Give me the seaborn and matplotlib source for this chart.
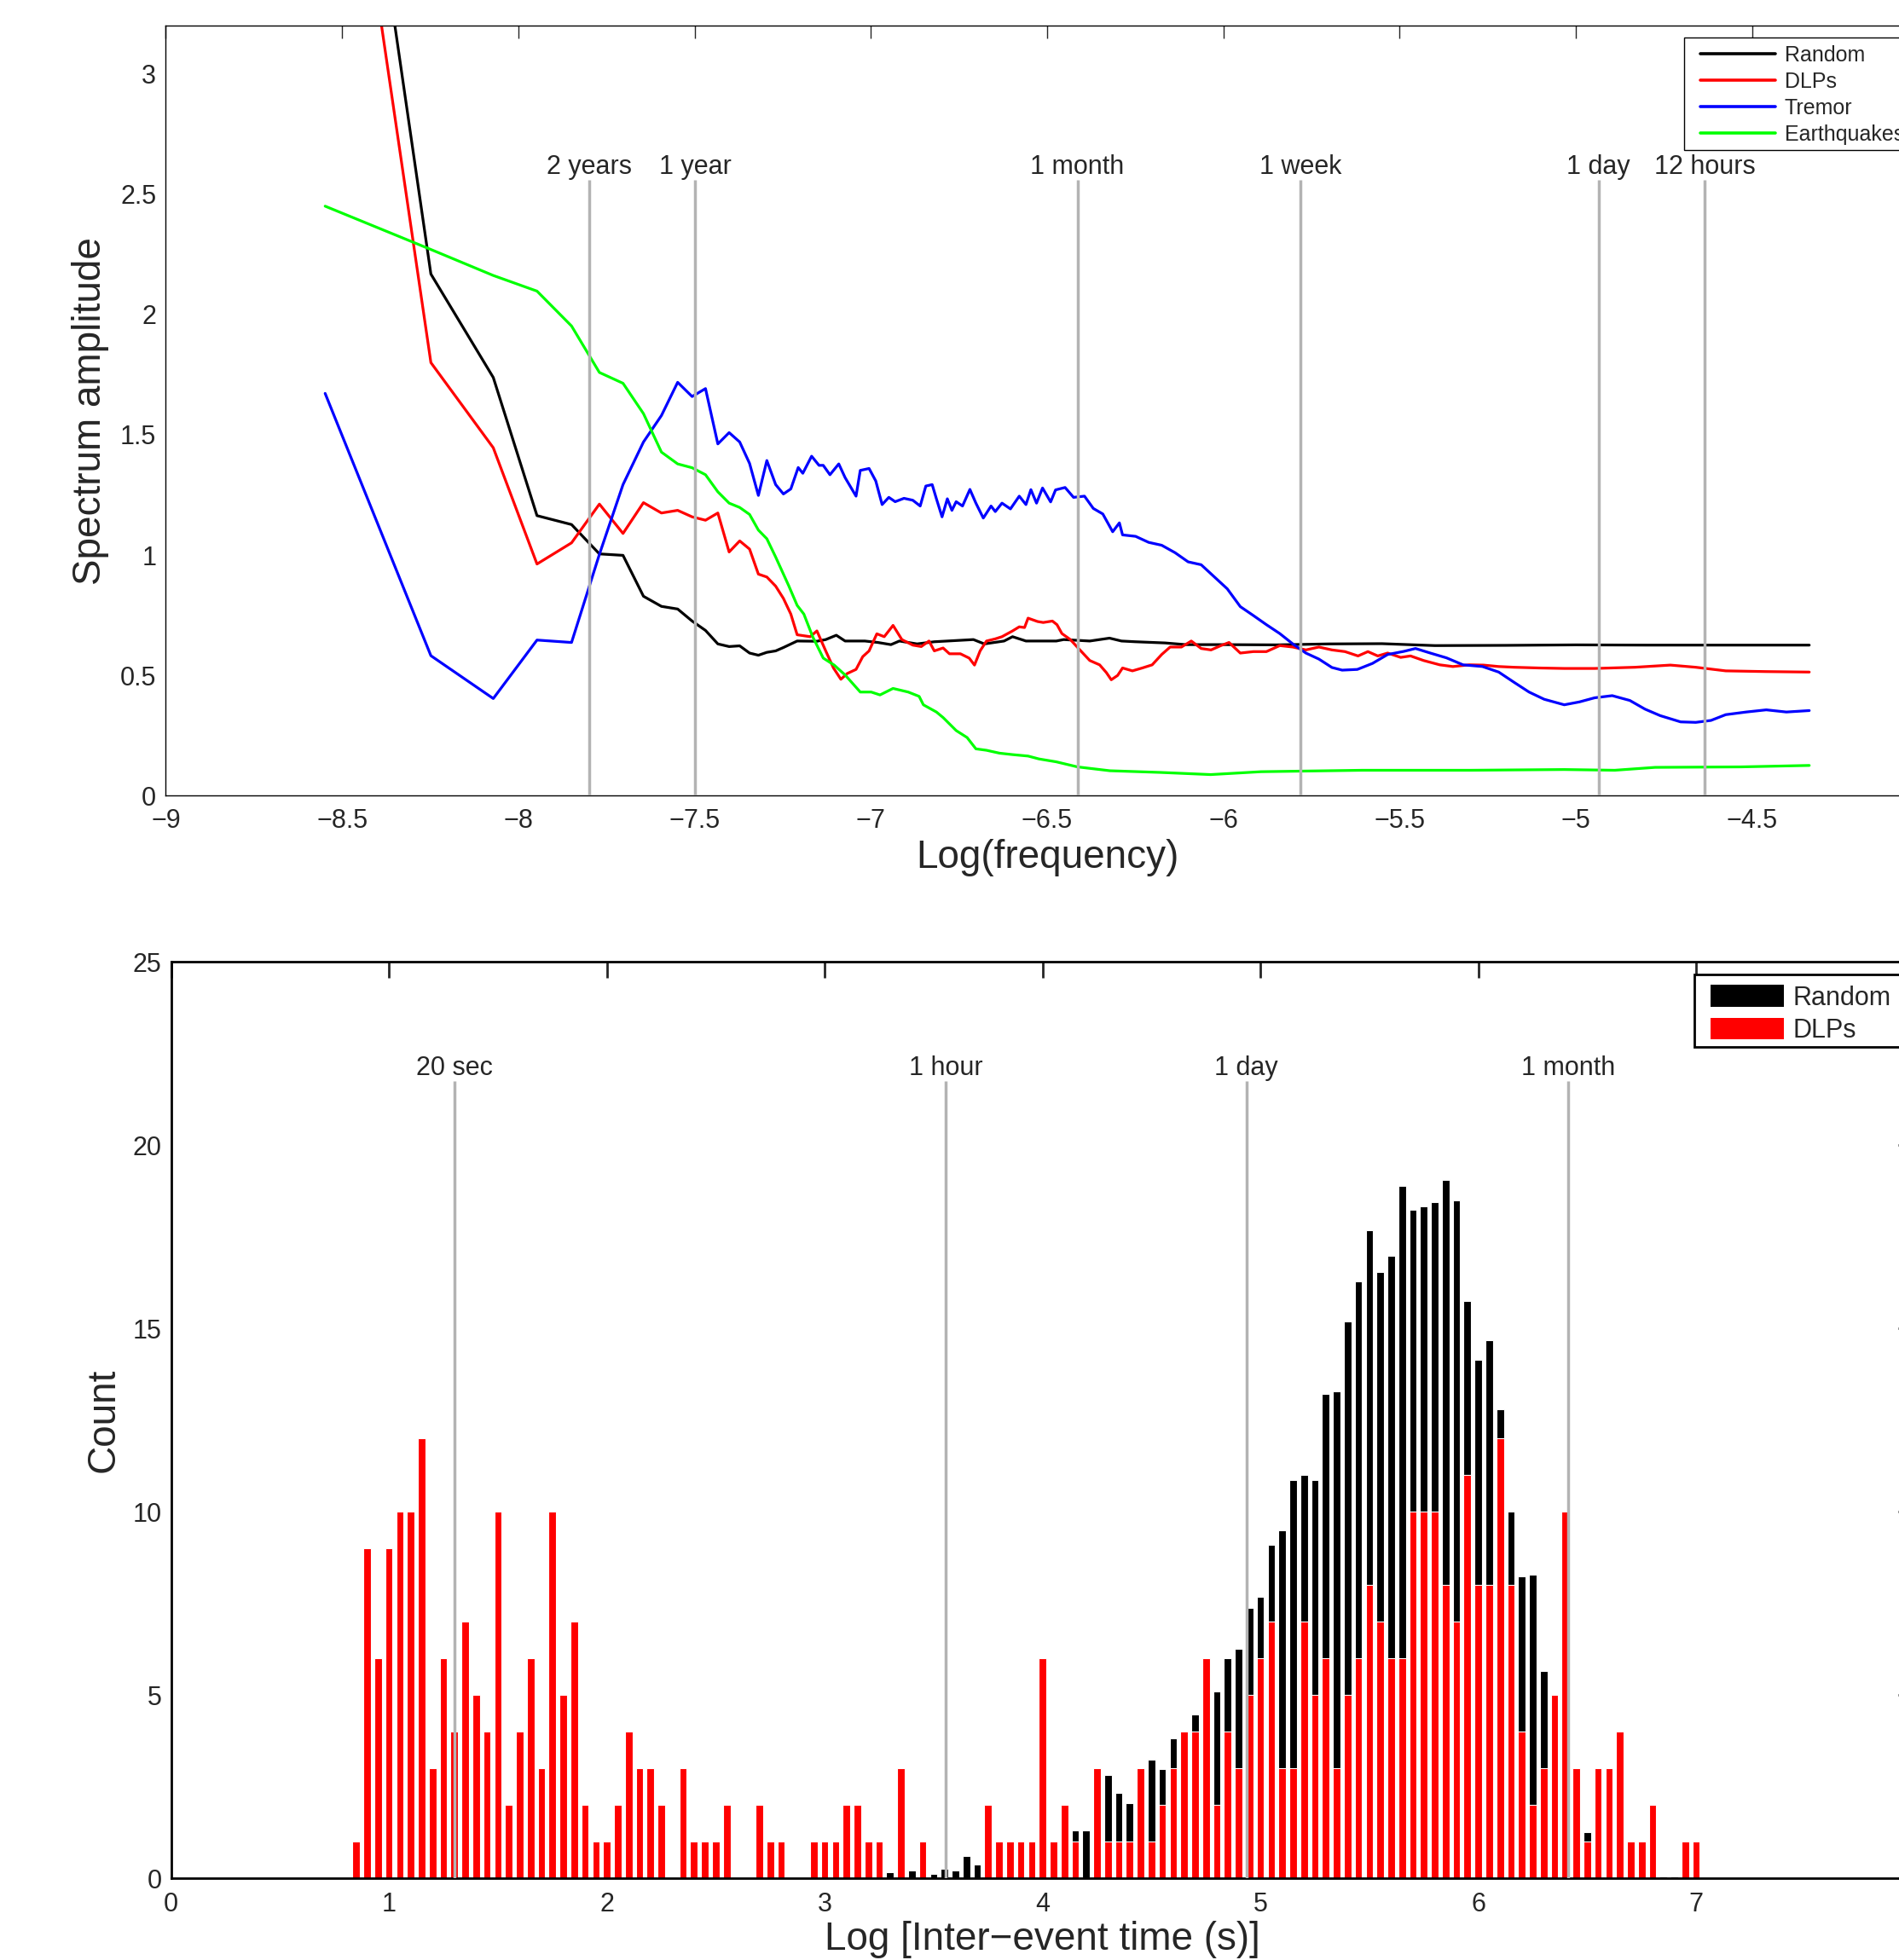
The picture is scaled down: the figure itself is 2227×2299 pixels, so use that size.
import numpy as np
import pandas as pd
import seaborn as sns
import matplotlib.pyplot as plt
import matplotlib.ticker as ticker
from matplotlib.lines import Line2D
from matplotlib.patches import Patch, Rectangle

# ---- spectra (log10 frequency, amplitude) ----
rand_logf = [-8.548, -8.248, -8.071, -7.947, -7.849, -7.77, -7.703, -7.645, -7.594, -7.548,
             -7.507, -7.469, -7.434, -7.402, -7.372, -7.344, -7.319, -7.295, -7.27, -7.248,
             -7.209, -7.153, -7.128, -7.098, -7.073, -7.017, -6.98, -6.943, -6.919, -6.869,
             -6.82, -6.783, -6.709, -6.678, -6.622, -6.598, -6.56, -6.474, -6.453, -6.379,
             -6.323, -6.289, -6.25, -6.165, -6.107, -6.0, -5.85, -5.7, -5.55, -5.4,
             -5.2, -5.0, -4.8, -4.6, -4.338]
rand_amp = [5.2, 2.168, 1.738, 1.164, 1.127, 1.005, 0.999, 0.829, 0.787, 0.776,
            0.726, 0.687, 0.631, 0.62, 0.623, 0.593, 0.584, 0.596, 0.602, 0.616,
            0.643, 0.642, 0.649, 0.667, 0.643, 0.643, 0.637, 0.628, 0.643, 0.631,
            0.64, 0.643, 0.649, 0.631, 0.643, 0.661, 0.643, 0.643, 0.649, 0.643,
            0.655, 0.643, 0.64, 0.635, 0.628, 0.628, 0.627, 0.631, 0.632, 0.624,
            0.625, 0.627, 0.626, 0.626, 0.626]

dlp_logf = [-8.548, -8.248, -8.071, -7.947, -7.849, -7.77, -7.703, -7.645, -7.594, -7.548,
            -7.507, -7.469, -7.434, -7.402, -7.372, -7.344, -7.319, -7.295, -7.27, -7.248,
            -7.227, -7.209, -7.172, -7.153, -7.128, -7.106, -7.085, -7.067, -7.042, -7.023,
            -7.005, -6.983, -6.962, -6.937, -6.912, -6.881, -6.857, -6.835, -6.82, -6.795,
            -6.777, -6.746, -6.721, -6.706, -6.69, -6.672, -6.647, -6.628, -6.598, -6.579,
            -6.564, -6.554, -6.527, -6.511, -6.485, -6.472, -6.458, -6.434, -6.407, -6.379,
            -6.351, -6.332, -6.318, -6.3, -6.286, -6.258, -6.23, -6.202, -6.175, -6.151,
            -6.119, -6.091, -6.063, -6.035, -6.007, -5.984, -5.952, -5.915, -5.878, -5.84,
            -5.803, -5.766, -5.729, -5.692, -5.655, -5.618, -5.59, -5.562, -5.534, -5.497,
            -5.469, -5.432, -5.386, -5.349, -5.302, -5.262, -5.219, -5.176, -5.105, -5.033,
            -4.947, -4.832, -4.732, -4.66, -4.575, -4.46, -4.338]
dlp_amp = [4.8, 1.80, 1.446, 0.963, 1.051, 1.212, 1.09, 1.218, 1.175, 1.186,
           1.159, 1.145, 1.175, 1.013, 1.059, 1.025, 0.921, 0.909, 0.871, 0.82,
           0.755, 0.669, 0.661, 0.685, 0.602, 0.531, 0.484, 0.508, 0.525, 0.578,
           0.602, 0.673, 0.661, 0.708, 0.649, 0.626, 0.62, 0.643, 0.602, 0.614,
           0.59, 0.59, 0.572, 0.543, 0.602, 0.643, 0.652, 0.661, 0.685, 0.702,
           0.699, 0.738, 0.724, 0.72, 0.726, 0.711, 0.674, 0.649, 0.606, 0.562,
           0.544, 0.512, 0.482, 0.5, 0.531, 0.519, 0.531, 0.544, 0.587, 0.618,
           0.618, 0.643, 0.612, 0.606, 0.624, 0.637, 0.593, 0.599, 0.599, 0.624,
           0.618, 0.606, 0.618, 0.606, 0.599, 0.581, 0.599, 0.581, 0.593, 0.575,
           0.581, 0.562, 0.544, 0.537, 0.544, 0.543, 0.537, 0.534, 0.531, 0.529,
           0.529, 0.534, 0.543, 0.534, 0.519, 0.516, 0.514]

trem_logf = [-8.548, -8.248, -8.071, -7.947, -7.849, -7.77, -7.703, -7.645, -7.594, -7.548,
             -7.507, -7.469, -7.434, -7.402, -7.372, -7.344, -7.319, -7.295, -7.27, -7.248,
             -7.227, -7.206, -7.193, -7.168, -7.147, -7.135, -7.116, -7.091, -7.073, -7.042,
             -7.03, -7.005, -6.986, -6.968, -6.949, -6.931, -6.906, -6.881, -6.86, -6.844,
             -6.826, -6.814, -6.798, -6.783, -6.77, -6.758, -6.74, -6.719, -6.702, -6.681,
             -6.659, -6.647, -6.628, -6.604, -6.579, -6.56, -6.546, -6.53, -6.513, -6.49,
             -6.476, -6.449, -6.425, -6.394, -6.369, -6.342, -6.314, -6.295, -6.286, -6.249,
             -6.212, -6.175, -6.137, -6.1, -6.063, -6.026, -5.989, -5.952, -5.915, -5.878,
             -5.84, -5.803, -5.766, -5.729, -5.692, -5.663, -5.62, -5.577, -5.534, -5.488,
             -5.455, -5.413, -5.367, -5.32, -5.265, -5.219, -5.176, -5.133, -5.09, -5.033,
             -4.99, -4.947, -4.897, -4.847, -4.804, -4.761, -4.703, -4.66, -4.617, -4.575,
             -4.517, -4.46, -4.403, -4.338]
trem_amp = [1.672, 0.582, 0.404, 0.647, 0.637, 1.003, 1.293, 1.47, 1.58, 1.718,
            1.659, 1.692, 1.462, 1.509, 1.47, 1.381, 1.248, 1.393, 1.293, 1.254,
            1.275, 1.364, 1.34, 1.411, 1.373, 1.373, 1.334, 1.379, 1.322, 1.245,
            1.352, 1.36, 1.308, 1.21, 1.24, 1.222, 1.236, 1.228, 1.204, 1.287,
            1.293, 1.234, 1.159, 1.234, 1.186, 1.222, 1.204, 1.273, 1.216, 1.154,
            1.204, 1.181, 1.216, 1.192, 1.245, 1.21, 1.272, 1.216, 1.279, 1.221,
            1.271, 1.281, 1.24, 1.245, 1.194, 1.171, 1.097, 1.134, 1.084, 1.078,
            1.053, 1.041, 1.01, 0.972, 0.96, 0.91, 0.86, 0.786, 0.749, 0.711,
            0.674, 0.631, 0.593, 0.568, 0.533, 0.522, 0.525, 0.55, 0.587, 0.6,
            0.612, 0.593, 0.573, 0.544, 0.537, 0.514, 0.472, 0.431, 0.401, 0.378,
            0.39, 0.407, 0.416, 0.396, 0.36, 0.333, 0.307, 0.305, 0.313, 0.337,
            0.348, 0.357, 0.348, 0.354]

eq_logf = [-8.548, -8.248, -8.071, -7.947, -7.849, -7.77, -7.703, -7.645, -7.594, -7.548,
           -7.507, -7.469, -7.434, -7.402, -7.372, -7.344, -7.319, -7.295, -7.27, -7.233,
           -7.209, -7.19, -7.165, -7.135, -7.104, -7.073, -7.03, -6.999, -6.974, -6.937,
           -6.894, -6.863, -6.851, -6.814, -6.795, -6.758, -6.727, -6.702, -6.672, -6.635,
           -6.598, -6.554, -6.523, -6.474, -6.414, -6.322, -6.179, -6.036, -5.893, -5.606,
           -5.3, -5.033, -4.89, -4.775, -4.532, -4.338]
eq_amp = [2.45, 2.27, 2.162, 2.097, 1.952, 1.759, 1.714, 1.588, 1.428, 1.379,
          1.363, 1.334, 1.263, 1.216, 1.198, 1.169, 1.104, 1.068, 0.992, 0.873,
          0.791, 0.755, 0.661, 0.572, 0.543, 0.502, 0.431, 0.431, 0.419, 0.446,
          0.431, 0.413, 0.378, 0.348, 0.325, 0.271, 0.242, 0.195, 0.189, 0.177,
          0.171, 0.165, 0.153, 0.141, 0.12, 0.104, 0.097, 0.088, 0.1, 0.106,
          0.106, 0.109, 0.106, 0.118, 0.12, 0.126]

period_labels_top = ['2 years', '1 year', '1 month', '1 week', '1 day', '12 hours']
period_logf = [-7.80, -7.499, -6.414, -5.782, -4.936, -4.635]

# ---- inter-event time histogram (bins of 0.05 in log10 seconds, 0.85 .. 7.00) ----
dlp_counts = [1, 9, 6, 9, 10, 10, 12, 3, 6, 4,
              7, 5, 4, 10, 2, 4, 6, 3, 10, 5,
              7, 2, 1, 1, 2, 4, 3, 3, 2, 0,
              3, 1, 1, 1, 2, 0, 0, 2, 1, 1,
              0, 0, 1, 1, 1, 2, 2, 1, 1, 0,
              3, 0, 1, 0, 0, 0, 0, 0, 2, 1,
              1, 1, 1, 6, 1, 2, 1, 0, 3, 1,
              1, 1, 3, 1, 2, 3, 4, 4, 6, 2,
              4, 3, 5, 6, 7, 3, 3, 7, 5, 6,
              3, 5, 6, 8, 7, 6, 6, 10, 10, 10,
              8, 7, 11, 8, 8, 12, 8, 4, 2, 3,
              5, 10, 3, 1, 3, 3, 4, 1, 1, 2,
              0, 0, 1, 1]
random_counts = [0, 0, 0, 0, 0, 0, 0, 0, 0, 0,
                 0, 0, 0, 0, 0, 0, 0, 0, 0, 0,
                 0, 0, 0, 0, 0, 0, 0, 0, 0, 0,
                 0, 0, 0, 0, 0, 0, 0, 0, 0, 0,
                 0, 0, 0, 0, 0, 0, 0, 0, 0.05, 0.17,
                 0.1, 0.22, 0.15, 0.12, 0.26, 0.22, 0.62, 0.37, 0.5, 0.6,
                 0.7, 0.8, 0.9, 1.0, 0.95, 1.2, 1.32, 1.32, 1.9, 2.83,
                 2.33, 2.06, 2.7, 3.23, 2.99, 3.81, 3.9, 4.48, 5.0, 5.1,
                 6.0, 6.26, 7.38, 7.68, 9.09, 9.5, 10.87, 11.01, 10.87, 13.21,
                 13.29, 15.2, 16.29, 17.68, 16.53, 16.98, 18.89, 18.24, 18.34, 18.44,
                 19.05, 18.49, 15.76, 14.15, 14.67, 12.79, 10.0, 8.24, 8.29, 5.66,
                 4.5, 3.3, 2.2, 1.27, 0.9, 0.6, 0.4, 0.3, 0.2, 0.1,
                 0.05, 0.05, 0, 0]
bin_centers = np.round(np.arange(0.85, 7.001, 0.05), 2)

period_labels_bot = ['20 sec', '1 hour', '1 day', '1 month']
period_logt = [1.301, 3.556, 4.936, 6.414]

series_names = ['Random', 'DLPs', 'Tremor', 'Earthquakes']
palette = {'Random': '#000000', 'DLPs': '#ff0000', 'Tremor': '#0000ff', 'Earthquakes': '#00ff00'}

sns.set_style('white')
plt.rcParams['font.family'] = ['Liberation Sans', 'DejaVu Sans']
plt.rcParams['axes.unicode_minus'] = True

spec = pd.concat([
    pd.DataFrame({'logf': rand_logf, 'amp': rand_amp, 'series': 'Random'}),
    pd.DataFrame({'logf': dlp_logf, 'amp': dlp_amp, 'series': 'DLPs'}),
    pd.DataFrame({'logf': trem_logf, 'amp': trem_amp, 'series': 'Tremor'}),
    pd.DataFrame({'logf': eq_logf, 'amp': eq_amp, 'series': 'Earthquakes'}),
], ignore_index=True)

hist = pd.DataFrame({'logt': bin_centers, 'Random': random_counts, 'DLPs': dlp_counts})

W, H = 2227, 2299


def gfmt(v, pos):
    return f'{v:g}'.replace('-', '\u2212')


def legend_box(ax, left, top, bottom, lw):
    # legend frame drawn separately (it runs past the right edge of the picture)
    ax.add_patch(Rectangle((left / W, 1 - bottom / H), (2300 - left) / W, (bottom - top) / H,
                           transform=ax.figure.transFigure, facecolor='white', edgecolor='black',
                           lw=lw, clip_on=False, zorder=4.9))


fig = plt.figure(figsize=(22.27, 22.99), dpi=100)
ax1 = fig.add_axes([0.0873, 0.5940, 0.9282, 0.3929])
ax2 = fig.add_axes([0.0901, 0.04163, 0.9178, 0.4676])

# top: spectra
sns.lineplot(data=spec, x='logf', y='amp', hue='series', hue_order=series_names,
             palette=palette, sort=False, estimator=None, lw=2.3, legend=False, ax=ax1)
ax1.vlines(period_logf, 0, 2.559, color='#b3b3b3', lw=2.5, zorder=4)
for lab, xv in zip(period_labels_top, period_logf):
    ax1.text(xv, 2.583, lab, ha='center', va='baseline', fontsize=22)

ax1.set_xlim(-9, -4)
ax1.set_ylim(0, 3.2)
# the -4 tick sits on the right spine, outside the saved picture
ax1.set_xticks(np.arange(-9, -4.4, 0.5))
ax1.set_yticks(np.arange(0, 3.01, 0.5))
ax1.xaxis.set_major_formatter(ticker.FuncFormatter(gfmt))
ax1.yaxis.set_major_formatter(ticker.FuncFormatter(gfmt))
ax1.tick_params(direction='in', top=True, right=True, length=11, width=1.0,
                labelsize=22, pad=8)
ax1.tick_params(axis='x', pad=10.5)
ax1.set_xlabel('Log(frequency)', fontsize=33)
ax1.set_ylabel('Spectrum amplitude', fontsize=33)
ax1.xaxis.set_label_coords(0.5, -0.0556)
ax1.yaxis.set_label_coords(-0.0322, 0.5)
for sp in ax1.spines.values():
    sp.set_linewidth(1.0)
    sp.set_color('black')

legend_box(ax1, 1975, 44.3, 175.7, 1.0)
handles = [Line2D([], [], color=palette[n], lw=2.6) for n in series_names]
ax1.legend(handles, series_names, loc='upper left',
           bbox_to_anchor=(1985.3 / W, 1 - 44.3 / H), bbox_transform=fig.transFigure,
           fontsize=18, frameon=False, handlelength=3.5, handletextpad=0.45,
           borderpad=0.35, labelspacing=0.28, borderaxespad=0)

# bottom: histogram
sns.histplot(data=hist, x='logt', weights='Random', binwidth=0.05, binrange=(0.825, 7.025),
             shrink=0.68, color='black', edgecolor='white', linewidth=0.8, alpha=1, ax=ax2)
sns.histplot(data=hist, x='logt', weights='DLPs', binwidth=0.05, binrange=(0.825, 7.025),
             shrink=0.68, color='red', edgecolor='white', linewidth=0.8, alpha=1, ax=ax2)
ax2.vlines(period_logt, 0, 21.75, color='#b3b3b3', lw=2.5, zorder=4)
for lab, xv in zip(period_labels_bot, period_logt):
    ax2.text(xv, 21.91, lab, ha='center', va='baseline', fontsize=22)

ax2.set_xlim(0, 8)
ax2.set_ylim(0, 25)
ax2.set_xticks(range(0, 8))
ax2.set_yticks(range(0, 26, 5))
ax2.tick_params(direction='in', top=True, right=True, length=14, width=2.0,
                labelsize=22, pad=8)
ax2.tick_params(axis='x', pad=11)
ax2.set_xlabel('Log [Inter\u2212event time (s)]', fontsize=33)
ax2.set_ylabel('Count', fontsize=33)
ax2.xaxis.set_label_coords(0.5, -0.0458)
ax2.yaxis.set_label_coords(-0.028, 0.5)
for sp in ax2.spines.values():
    sp.set_linewidth(2.0)
    sp.set_color('black')

legend_box(ax2, 1987.3, 1143.3, 1228.3, 2.0)
patches = [Patch(facecolor='black', edgecolor='none'), Patch(facecolor='red', edgecolor='none')]
ax2.legend(patches, ['Random', 'DLPs'], loc='upper left',
           bbox_to_anchor=(1995.3 / W, 1 - 1144.8 / H), bbox_transform=fig.transFigure,
           fontsize=22, frameon=False, handlelength=2.8, handleheight=0.9,
           handletextpad=0.35, borderpad=0.35, labelspacing=0.26, borderaxespad=0)

fig.savefig('out.png', dpi=100)
